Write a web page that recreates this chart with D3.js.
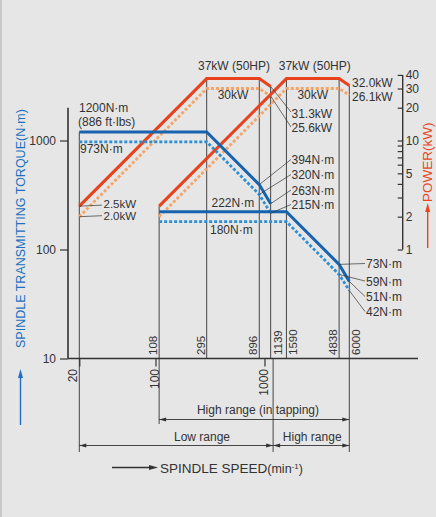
<!DOCTYPE html>
<html>
<head>
<meta charset="utf-8">
<script src="https://cdn.jsdelivr.net/npm/d3@7"></script>
<style>
  html, body { margin: 0; padding: 0; background: #e6e6e6; }
  svg { display: block; }
  text { font-family: "Liberation Sans", Arial, Helvetica, sans-serif; fill: #333; }
</style>
</head>
<body>
<svg id="chart" width="436" height="517"></svg>
<script>
// Low gear range: speed breakpoints (min^-1) and output at each
const lowSpeeds        = [20, 295, 896, 1139];
const lowTorqueShort   = [1200, 1200, 394, 263];   // N·m, short-time rating
const lowTorqueCont    = [973, 973, 320, 215];     // N·m, continuous rating
const lowPowerShort    = [2.5, 37, 37, 31.3];      // kW
const lowPowerCont     = [2.0, 30, 30, 25.6];      // kW

// High gear range
const highSpeeds       = [108, 1590, 4838, 6000];
const highTorqueShort  = [222, 222, 73, 51];
const highTorqueCont   = [180, 180, 59, 42];
const highPowerShort   = [2.5, 37, 37, 32.0];
const highPowerCont    = [2.0, 30, 30, 26.1];

// Gear change speed separating the low and high ranges
const rangeSwitch = 1200;

// Axis ticks
const torqueMajor = [10, 100, 1000];
const torqueMinor = [20, 30, 40, 50, 60, 70, 80, 90, 200, 300, 400, 500, 600, 700, 800, 900];
const powerTicks  = [1, 2, 3, 4, 5, 6, 7, 8, 9, 10, 20, 30, 40];
const powerLabels = [1, 2, 5, 10, 20, 30, 40];
const speedMajor  = [20, 100, 1000];
const speedMinor  = [30, 40, 50, 60, 70, 80, 90, 200, 300, 400, 500, 600, 700, 800, 900,
                     2000, 3000, 4000, 5000, 6000];
const markedSpeeds = [108, 295, 896, 1139, 1590, 4838, 6000];

const svg = d3.select("#chart");
const INK = "#333";
const RED = "#e8411c", ORANGE = "#f5a466", BLUE = "#1763b0", LBLUE = "#2b8fd6";

// Scales: one decade = 109 px on both axes; 10 kW shares the level of 1000 N·m
const x  = d3.scaleLog().domain([20, 6000]).range([79.3, 349.3]);
const yT = d3.scaleLog().domain([10, 2000]).range([358.5, 107.7]);
const yP = d3.scaleLog().domain([1, 40]).range([yT(100), yT(4000)]);

const axisY = yT(10), axisX = 68, powerX = 402.7;

// left strip
svg.append("rect").attr("x", 0).attr("y", 0).attr("width", 2).attr("height", 517).attr("fill", "#c8c8c8");

// ---- Torque axis (left)
const gT = svg.append("g").attr("transform", `translate(${axisX},0)`);
gT.call(d3.axisLeft(yT).tickValues(torqueMinor).tickSize(6).tickFormat(""));
gT.call(d3.axisLeft(yT).tickValues(torqueMajor).tickSize(8).tickFormat(d3.format("d")));
gT.selectAll(".domain").remove();
gT.selectAll("line").attr("stroke", INK).attr("stroke-width", 1.2);
gT.selectAll("text").attr("font-size", 12).attr("fill", INK).attr("dx", -1);
svg.append("line").attr("x1", axisX).attr("x2", axisX).attr("y1", yT(2000)).attr("y2", axisY)
  .attr("stroke", INK).attr("stroke-width", 1.6);

// ---- Power axis (right)
const gP = svg.append("g").attr("transform", `translate(${powerX},0)`);
gP.call(d3.axisLeft(yP).tickValues(powerTicks).tickSize(5)
  .tickFormat(d => powerLabels.includes(d) ? d : ""));
gP.selectAll(".domain").remove();
gP.selectAll("line").attr("stroke", INK).attr("stroke-width", 1.2);
gP.selectAll("text").attr("font-size", 12).attr("fill", INK)
  .attr("text-anchor", "start").attr("x", 3);
svg.append("line").attr("x1", powerX).attr("x2", powerX).attr("y1", yP(40)).attr("y2", yP(1))
  .attr("stroke", INK).attr("stroke-width", 1.4);

// ---- Speed axis (bottom)
const gX = svg.append("g").attr("transform", `translate(0,${axisY})`);
gX.call(d3.axisBottom(x).tickValues(speedMinor).tickSize(5).tickFormat(""));
gX.call(d3.axisBottom(x).tickValues(speedMajor).tickSize(8).tickFormat(""));
gX.selectAll(".domain").remove();
gX.selectAll("line").attr("stroke", INK).attr("stroke-width", 1.2);
svg.append("line").attr("x1", axisX).attr("x2", 418).attr("y1", axisY).attr("y2", axisY)
  .attr("stroke", INK).attr("stroke-width", 1.6);

// rotated speed labels below the axis
speedMajor.forEach(v => {
  const bx = v === 20 ? x(v) - 2 : x(v) + 3.5;
  svg.append("text").attr("transform", `translate(${bx},369) rotate(-90)`)
    .attr("text-anchor", "end").attr("font-size", 12).text(v);
});

// ---- Guide lines at marked speeds
const guideTop = {
  20: yT(lowTorqueShort[0]),
  108: yP(highPowerShort[0]),
  295: yP(lowPowerShort[1]),
  896: yP(lowPowerShort[2]),
  1139: yP(lowPowerShort[3]),
  1590: yP(highPowerShort[1]),
  4838: yP(highPowerShort[2]),
  6000: yP(highPowerShort[3])
};
const guideBottom = { 20: 452, 108: 424, 6000: 452 };
Object.keys(guideTop).forEach(k => {
  const v = +k;
  svg.append("line").attr("x1", x(v)).attr("x2", x(v))
    .attr("y1", guideTop[k]).attr("y2", guideBottom[k] || axisY)
    .attr("stroke", INK).attr("stroke-width", 0.9);
});
svg.append("line").attr("x1", x(rangeSwitch)).attr("x2", x(rangeSwitch))
  .attr("y1", axisY).attr("y2", 452).attr("stroke", INK).attr("stroke-width", 0.9);

// rotated speed labels above the axis
const rightSide = new Set([1139, 1590, 6000]);
markedSpeeds.forEach(v => {
  const bx = rightSide.has(v) ? x(v) + 11 : x(v) - 2;
  svg.append("text").attr("transform", `translate(${bx},355) rotate(-90)`)
    .attr("text-anchor", "start").attr("font-size", 11.5).text(v);
});

// ---- Curves
const line = d3.line().x(d => x(d[0])).y(d => d[1]);
function curve(speeds, vals, scale, color, dashed) {
  svg.append("path")
    .attr("d", line(speeds.map((s, i) => [s, scale(vals[i])])))
    .attr("fill", "none").attr("stroke", color).attr("stroke-width", dashed ? 2.8 : 3)
    .attr("stroke-dasharray", dashed ? "3,2" : null)
    .attr("stroke-linejoin", "miter");
}
curve(lowSpeeds, lowPowerCont, yP, ORANGE, true);
curve(highSpeeds, highPowerCont, yP, ORANGE, true);
curve(lowSpeeds, lowPowerShort, yP, RED, false);
curve(highSpeeds, highPowerShort, yP, RED, false);
curve(lowSpeeds, lowTorqueCont, yT, LBLUE, true);
curve(highSpeeds, highTorqueCont, yT, LBLUE, true);
curve(lowSpeeds, lowTorqueShort, yT, BLUE, false);
curve(highSpeeds, highTorqueShort, yT, BLUE, false);

// ---- Value labels
function label(txt, tx, by, opts = {}) {
  svg.append("text").attr("x", tx).attr("y", by)
    .attr("font-size", opts.size || 12)
    .attr("text-anchor", opts.anchor || "start").text(txt);
}
function leader(x1, y1, x2, y2) {
  svg.append("line").attr("x1", x1).attr("y1", y1).attr("x2", x2).attr("y2", y2)
    .attr("stroke", INK).attr("stroke-width", 0.7);
}

label("1200N·m", 79, 112);
label("(886 ft·lbs)", 78, 126);
label("973N·m", 80, 153);

leader(x(lowSpeeds[0]), yP(lowPowerShort[0]), 102, yP(lowPowerShort[0]) - 1);
label("2.5kW", 103.5, 208, { size: 11.5 });
leader(x(lowSpeeds[0]), yP(lowPowerCont[0]), 102, yP(lowPowerCont[0]) - 1);
label("2.0kW", 103.5, 219.5, { size: 11.5 });

label("222N·m", 211.5, 207);
label("180N·m", 210, 234);

const midLow = (x(lowSpeeds[1]) + x(lowSpeeds[2])) / 2;
const midHigh = (x(highSpeeds[1]) + x(highSpeeds[2])) / 2;
label("37kW (50HP)", midLow + 1, 70, { anchor: "middle" });
label("37kW (50HP)", midHigh + 2, 70, { anchor: "middle" });
label("30kW", midLow, 98.5, { anchor: "middle" });
label("30kW", midHigh, 98.5, { anchor: "middle" });

label("32.0kW", 352, 86.5);
label("26.1kW", 352, 101);

leader(x(lowSpeeds[3]), yP(lowPowerShort[3]), 291, 112);
label("31.3kW", 291.5, 117.5);
leader(x(lowSpeeds[3]), yP(lowPowerCont[3]), 291, 127);
label("25.6kW", 291.5, 132);

leader(x(lowSpeeds[2]), yT(lowTorqueShort[2]), 291, 159.5);
label("394N·m", 291.5, 164);
leader(x(lowSpeeds[2]), yT(lowTorqueCont[2]), 291, 174.5);
label("320N·m", 291.5, 179);
leader(x(lowSpeeds[3]), yT(lowTorqueShort[3]), 291, 190);
label("263N·m", 291.5, 194.5);
leader(x(lowSpeeds[3]), yT(lowTorqueCont[3]), 291, 204.5);
label("215N·m", 291.5, 209);

leader(x(highSpeeds[2]), yT(highTorqueShort[2]), 365, 263.5);
label("73N·m", 366, 268);
leader(x(highSpeeds[2]), yT(highTorqueCont[2]), 365, 281);
label("59N·m", 366, 285.5);
leader(x(highSpeeds[3]), yT(highTorqueShort[3]), 365, 296.5);
label("51N·m", 366, 301);
leader(x(highSpeeds[3]), yT(highTorqueCont[3]), 365, 311.5);
label("42N·m", 366, 316);

// ---- Dimension arrows for the speed ranges
function head(px, py, dir) {
  svg.append("path")
    .attr("d", `M${px},${py} L${px - dir * 7},${py - 2} L${px - dir * 7},${py + 2} Z`)
    .attr("fill", INK);
}
function dim(xa, xb, yy) {
  svg.append("line").attr("x1", xa).attr("x2", xb).attr("y1", yy).attr("y2", yy)
    .attr("stroke", INK).attr("stroke-width", 0.9);
  head(xa, yy, -1);
  head(xb, yy, 1);
}
dim(x(highSpeeds[0]), x(6000), 419.5);
dim(x(lowSpeeds[0]), x(rangeSwitch), 445.5);
dim(x(rangeSwitch), x(6000), 445.5);
label("High range (in tapping)", 258, 413.5, { anchor: "middle" });
label("Low range", 202, 441, { anchor: "middle" });
label("High range", (x(rangeSwitch) + x(6000)) / 2 + 1, 441, { anchor: "middle" });

// ---- Axis titles
svg.append("line").attr("x1", 112).attr("x2", 152).attr("y1", 467.5).attr("y2", 467.5)
  .attr("stroke", INK).attr("stroke-width", 1.4);
svg.append("path").attr("d", "M158,467.5 L149,465 L149,470 Z").attr("fill", INK);
const xt = svg.append("text").attr("x", 160).attr("y", 472.5).attr("font-size", 13.5);
xt.append("tspan").text("SPINDLE SPEED");
xt.append("tspan").attr("font-size", 12.5).text("(min");
xt.append("tspan").attr("font-size", 8).attr("dy", -4).text("-1");
xt.append("tspan").attr("font-size", 12.5).attr("dy", 4).text(")");

svg.append("text").attr("transform", "translate(25,348) rotate(-90)")
  .attr("font-size", 12.5).style("fill", "#2070c0")
  .text("SPINDLE TRANSMITTING TORQUE(N·m)");
svg.append("line").attr("x1", 20.5).attr("x2", 20.5).attr("y1", 425).attr("y2", 374)
  .attr("stroke", "#2070c0").attr("stroke-width", 1.4);
svg.append("path").attr("d", "M20.5,369 L18,378 L23,378 Z").attr("fill", "#2070c0");

svg.append("text").attr("transform", "translate(431.5,202) rotate(-90)")
  .attr("font-size", 13.5).style("fill", "#e8461e")
  .text("POWER(kW)");
svg.append("line").attr("x1", 427.7).attr("x2", 427.7).attr("y1", 248).attr("y2", 208)
  .attr("stroke", "#e8461e").attr("stroke-width", 1.4);
svg.append("path").attr("d", "M427.7,203 L425.2,212 L430.2,212 Z").attr("fill", "#e8461e");
</script>
</body>
</html>
